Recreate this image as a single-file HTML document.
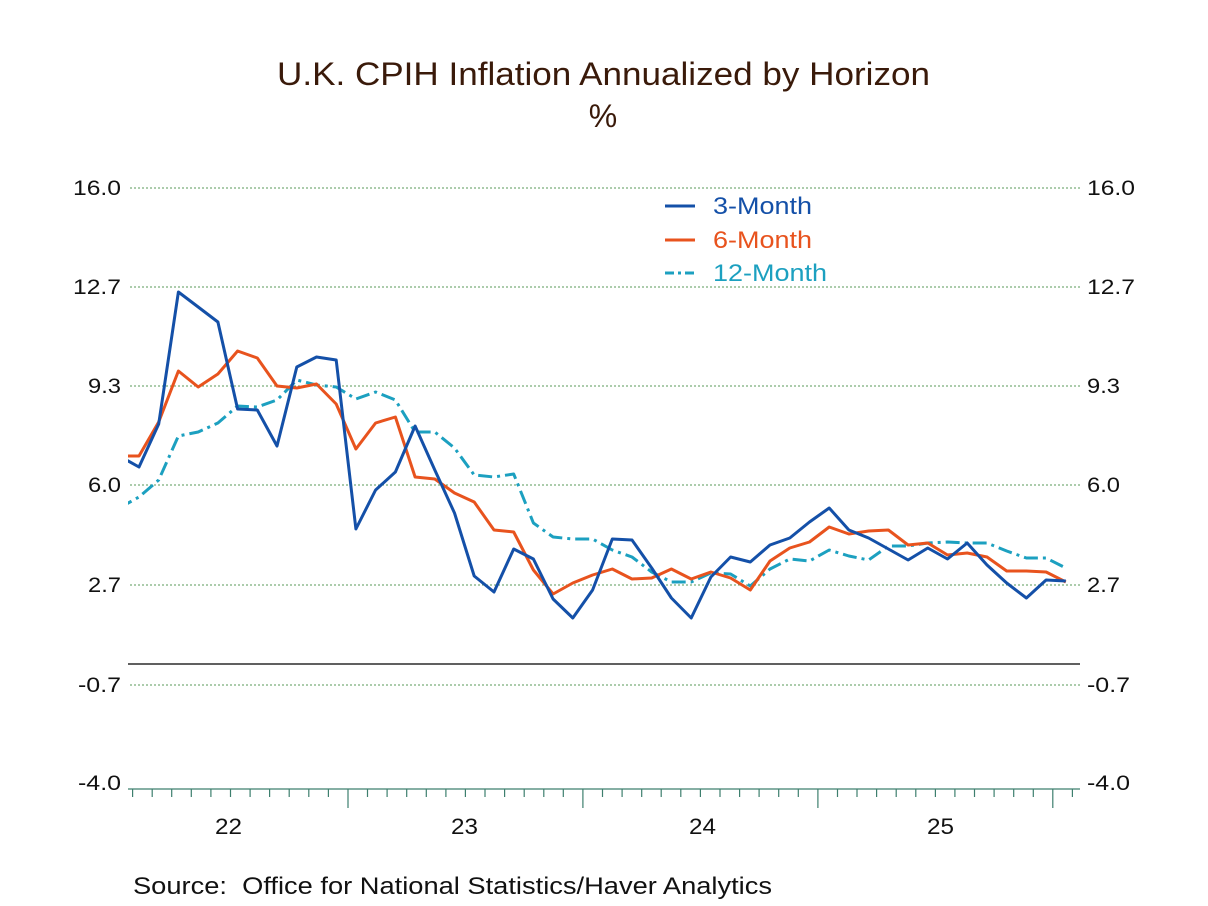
<!DOCTYPE html>
<html><head><meta charset="utf-8"><style>
body{margin:0;background:#fff;}
svg{display:block;font-family:"Liberation Sans",Arial,sans-serif;}
</style></head><body>
<svg width="1208" height="906" viewBox="0 0 1208 906" xmlns="http://www.w3.org/2000/svg">
<text x="277" y="85" font-size="32" fill="#3a1a0a" textLength="653" lengthAdjust="spacingAndGlyphs">U.K. CPIH Inflation Annualized by Horizon</text>
<text x="603" y="127" font-size="32" fill="#3a1a0a" text-anchor="middle">%</text>
<g stroke="#5a9a5a" stroke-width="1" stroke-dasharray="2,2">
<line x1="130" y1="188" x2="1080" y2="188"/>
<line x1="130" y1="287" x2="1080" y2="287"/>
<line x1="130" y1="386" x2="1080" y2="386"/>
<line x1="130" y1="485" x2="1080" y2="485"/>
<line x1="130" y1="585" x2="1080" y2="585"/>
<line x1="130" y1="685" x2="1080" y2="685"/>
</g>
<line x1="128" y1="664" x2="1080" y2="664" stroke="#000" stroke-width="1.3"/>
<g font-size="21" fill="#111">
<text x="73" y="195" textLength="48" lengthAdjust="spacingAndGlyphs">16.0</text>
<text x="73" y="294" textLength="48" lengthAdjust="spacingAndGlyphs">12.7</text>
<text x="88" y="393" textLength="33" lengthAdjust="spacingAndGlyphs">9.3</text>
<text x="88" y="492" textLength="33" lengthAdjust="spacingAndGlyphs">6.0</text>
<text x="88" y="592" textLength="33" lengthAdjust="spacingAndGlyphs">2.7</text>
<text x="78" y="692" textLength="43" lengthAdjust="spacingAndGlyphs">-0.7</text>
<text x="78" y="790" textLength="43" lengthAdjust="spacingAndGlyphs">-4.0</text>
<text x="1087" y="195" textLength="48" lengthAdjust="spacingAndGlyphs">16.0</text>
<text x="1087" y="294" textLength="48" lengthAdjust="spacingAndGlyphs">12.7</text>
<text x="1087" y="393" textLength="33" lengthAdjust="spacingAndGlyphs">9.3</text>
<text x="1087" y="492" textLength="33" lengthAdjust="spacingAndGlyphs">6.0</text>
<text x="1087" y="592" textLength="33" lengthAdjust="spacingAndGlyphs">2.7</text>
<text x="1087" y="692" textLength="43" lengthAdjust="spacingAndGlyphs">-0.7</text>
<text x="1087" y="790" textLength="43" lengthAdjust="spacingAndGlyphs">-4.0</text>
</g>
<line x1="128" y1="789" x2="1080" y2="789" stroke="#3d7f6e" stroke-width="1.3"/>
<g id="ticks" stroke="#3d7f6e" stroke-width="1.2"></g>
<g font-size="22" fill="#111">
<text x="215" y="834" textLength="27" lengthAdjust="spacingAndGlyphs">22</text>
<text x="451" y="834" textLength="27" lengthAdjust="spacingAndGlyphs">23</text>
<text x="689" y="834" textLength="27" lengthAdjust="spacingAndGlyphs">24</text>
<text x="927" y="834" textLength="27" lengthAdjust="spacingAndGlyphs">25</text>
</g>
<text x="133" y="894" font-size="24" fill="#111" textLength="639" lengthAdjust="spacingAndGlyphs" xml:space="preserve">Source:  Office for National Statistics/Haver Analytics</text>
<defs><clipPath id="c"><rect x="128" y="150" width="952" height="640"/></clipPath></defs>
<g clip-path="url(#c)" fill="none" stroke-width="3" stroke-linejoin="round">
<polyline id="teal" stroke="#1ca0c0" stroke-dasharray="14,5,3,5"/>
<polyline id="orange" stroke="#e8531e"/>
<polyline id="blue" stroke="#1450a8"/>
</g>
<line x1="665" y1="206" x2="695" y2="206" stroke="#1450a8" stroke-width="3"/>
<line x1="665" y1="240" x2="695" y2="240" stroke="#e8531e" stroke-width="3"/>
<line x1="665" y1="273" x2="695" y2="273" stroke="#1ca0c0" stroke-width="3" stroke-dasharray="9,4,3,4"/>
<g font-size="24">
<text x="713" y="214" fill="#1450a8" textLength="99" lengthAdjust="spacingAndGlyphs">3-Month</text>
<text x="713" y="248" fill="#e8531e" textLength="99" lengthAdjust="spacingAndGlyphs">6-Month</text>
<text x="713" y="281" fill="#1ca0c0" textLength="114" lengthAdjust="spacingAndGlyphs">12-Month</text>
</g>
</svg>
<script>
var blue=[456,467,424,292,307,322,409,410,446,367,357,360,529,490,472,426,470,513,576,592,549,559,599,618,590,539,540,568,598,618,577,557,562,545,538,522,508,530,538,549,560,548,559,543,565,583,598,580,581];
var orange=[456,456,422,371,387,374,351,358,386,388,384,404,449,423,417,477,479,493,502,530,532,570,594,583,575,569,579,578,569,579,572,578,590,561,548,542,527,534,531,530,545,543,555,553,557,571,571,572,582];
var teal=[508,497,480,436,432,423,406,407,400,380,385,387,399,392,400,432,432,448,475,477,474,523,537,539,539,550,557,572,582,582,573,574,586,569,559,561,550,556,560,546,546,543,542,543,543,551,558,558,568];
function pts(a){return a.map(function(y,i){var k=i-1;return (139+19.72*k).toFixed(1)+","+y;}).join(" ");}
document.getElementById("blue").setAttribute("points",pts(blue));
document.getElementById("orange").setAttribute("points",pts(orange));
document.getElementById("teal").setAttribute("points",pts(teal));
var g=document.getElementById("ticks"),s="";
for(var m=1;m<=49;m++){var x=113+19.58*m;var maj=(m%12==0);s+='<line x1="'+x.toFixed(1)+'" y1="789" x2="'+x.toFixed(1)+'" y2="'+(maj?808:797)+'"/>';}
g.innerHTML=s;
</script>
</body></html>
